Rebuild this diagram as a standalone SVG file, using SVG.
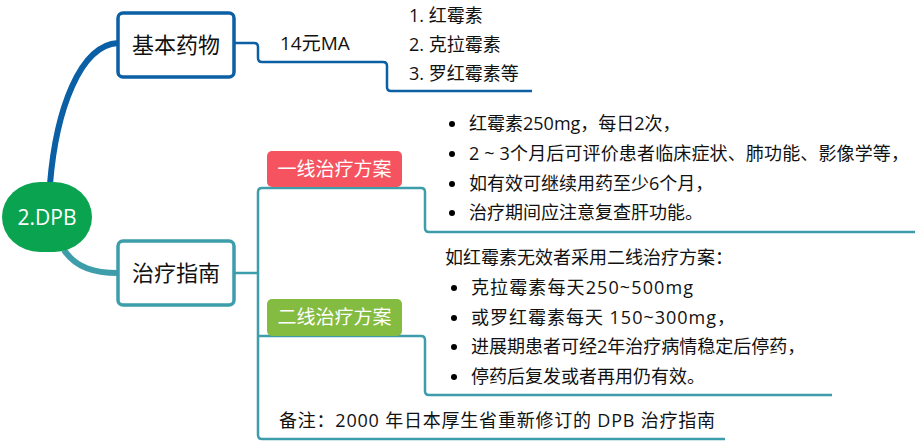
<svg xmlns="http://www.w3.org/2000/svg" width="915" height="445" viewBox="0 0 915 445">
<style>
text{font-family:"Open Sans","Noto Sans CJK SC",sans-serif;fill:#111}
.box{fill:#fff;stroke-width:3.5}
.t{font-size:18px}
.big{font-size:22px}
.lbl{font-size:19px;fill:#fff}
.blue{fill:none;stroke:#0b5fa5;stroke-width:2.5}
.teal{fill:none;stroke:#3d9dab;stroke-width:2.5}
</style>
<rect width="915" height="445" fill="#fff"/>
<g id="connectors">
<path d="M50,184 C56,110 80,45 118,43" fill="none" stroke="#0b5fa5" stroke-width="6"/>
<path d="M64,250 C76,268 95,273 118,273" fill="none" stroke="#3d9dab" stroke-width="6"/>
<path class="blue" d="M234,43 H254 Q258,43 258,47 V58 Q258,62 262,62 H383 Q387,62 387,66 V87 Q387,91 391,91 H532"/>
<path class="teal" d="M234,273 H258"/>
<path class="teal" d="M421,188 H262 Q258,188 258,192 V435 Q258,439 262,439 H725"/>
<path class="teal" d="M421,188 Q425,188 425,192 V228 Q425,232 429,232 H915"/>
<path class="teal" d="M258,336 H421 Q425,336 425,340 V391 Q425,395 429,395 H832"/>
</g>
<g id="root">
<rect x="2" y="182" width="90" height="70" rx="38" ry="35" fill="#0aa350"/>
<text x="47" y="225" text-anchor="middle" style="font-size:21px;fill:#fff">2.DPB</text>
</g>
<g id="basic">
<rect class="box" x="118" y="13" width="116" height="64" rx="5" stroke="#0b5fa5"/>
<text class="big" x="176" y="53" text-anchor="middle">基本药物</text>
</g>
<g id="price"><text x="280" y="50" style="font-size:19px">14元MA</text></g>
<g id="druglist">
<text class="t" x="409" y="22">1. 红霉素</text>
<text class="t" x="409" y="51">2. 克拉霉素</text>
<text class="t" x="409" y="80">3. 罗红霉素等</text>
</g>
<g id="guide">
<rect class="box" x="118" y="241" width="116" height="64" rx="5" stroke="#3d9dab"/>
<text class="big" x="176" y="281" text-anchor="middle">治疗指南</text>
</g>
<g id="first">
<rect x="267" y="151" width="135" height="36" rx="5" fill="#f4535f"/>
<text class="lbl" x="334.5" y="176" text-anchor="middle">一线治疗方案</text>
</g>
<g id="first-text">
<circle cx="452" cy="124" r="3"/><text class="t" x="469" y="130">红霉素250mg，每日2次，</text>
<circle cx="452" cy="154" r="3"/><text class="t" x="469" y="160" textLength="440" lengthAdjust="spacing">2 ~ 3个月后可评价患者临床症状、肺功能、影像学等，</text>
<circle cx="452" cy="184" r="3"/><text class="t" x="469" y="190">如有效可继续用药至少6个月，</text>
<circle cx="452" cy="213" r="3"/><text class="t" x="469" y="219">治疗期间应注意复查肝功能。</text>
</g>
<g id="second">
<rect x="267" y="299" width="135" height="37" rx="5" fill="#84bb41"/>
<text class="lbl" x="334.5" y="324" text-anchor="middle">二线治疗方案</text>
</g>
<g id="second-text">
<text class="t" x="445" y="264">如红霉素无效者采用二线治疗方案：</text>
<circle cx="454" cy="288" r="3"/><text class="t" x="471" y="294" textLength="222" lengthAdjust="spacing">克拉霉素每天250~500mg</text>
<circle cx="454" cy="318" r="3"/><text class="t" x="471" y="324" textLength="264" lengthAdjust="spacing">或罗红霉素每天 150~300mg，</text>
<circle cx="454" cy="347" r="3"/><text class="t" x="471" y="353">进展期患者可经2年治疗病情稳定后停药，</text>
<circle cx="454" cy="377" r="3"/><text class="t" x="471" y="383">停药后复发或者再用仍有效。</text>
</g>
<g id="note"><text class="t" x="279" y="427" textLength="436" lengthAdjust="spacing">备注：2000 年日本厚生省重新修订的 DPB 治疗指南</text></g>
</svg>
